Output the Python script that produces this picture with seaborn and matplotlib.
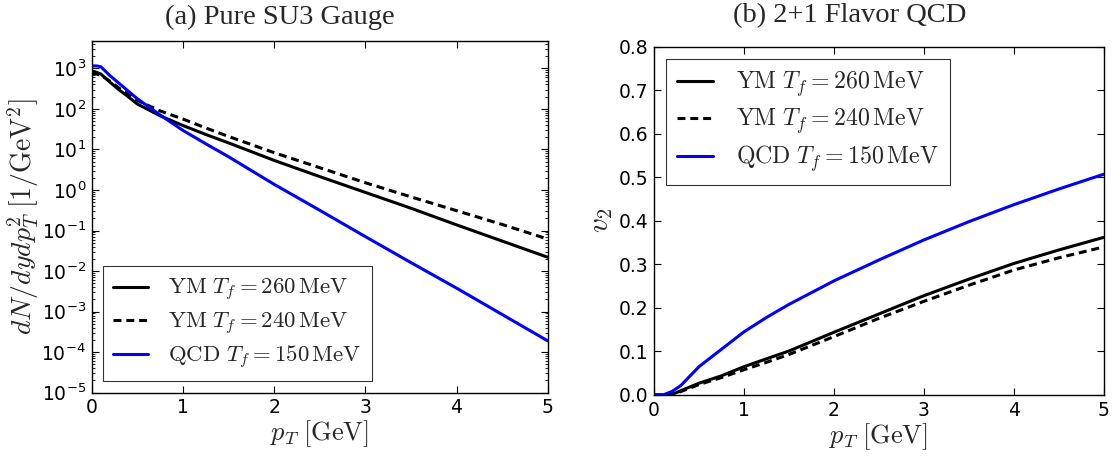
import numpy as np
import pandas as pd
import matplotlib
matplotlib.use("Agg")
import matplotlib.pyplot as plt
from matplotlib.ticker import FixedLocator, FuncFormatter, LogLocator, NullFormatter
import seaborn as sns

# ---------------- data ----------------
# (a) transverse-momentum spectra, dN/dy dp_T^2 [1/GeV^2]
pt_spec = [0.0, 0.05, 0.1, 0.15, 0.2, 0.3, 0.4, 0.5, 0.75, 1.0, 1.25, 1.5, 2.0, 2.5, 3.0, 3.5, 4.0, 4.5, 5.0]
spec_ym260 = [851, 800, 724, 575, 457, 295, 200, 132, 67.6, 38.9, 23.4, 14.5, 5.37, 2.14, 0.871, 0.355, 0.138, 0.055, 0.0219]
spec_ym240 = [759, 730, 676, 575, 480, 324, 229, 162, 89.1, 56.2, 33.9, 20.9, 8.32, 3.55, 1.51, 0.676, 0.309, 0.141, 0.0617]
spec_qcd150 = [1148, 1148, 1096, 850, 660, 427, 275, 178, 70.8, 29.5, 13.8, 6.61, 1.38, 0.316, 0.0708, 0.0162, 0.0038, 8.5e-4, 1.9e-4]

# (b) elliptic flow v2(p_T)
pt_v2 = [0.0, 0.1, 0.2, 0.3, 0.5, 0.75, 1.0, 1.25, 1.5, 2.0, 2.5, 3.0, 3.5, 4.0, 4.5, 5.0]
v2_ym260 = [0.0, 0.0, 0.001, 0.010, 0.027, 0.044, 0.065, 0.083, 0.101, 0.144, 0.186, 0.228, 0.266, 0.302, 0.333, 0.362]
v2_ym240 = [0.0, 0.0, 0.001, 0.008, 0.024, 0.040, 0.058, 0.075, 0.093, 0.134, 0.176, 0.215, 0.252, 0.287, 0.315, 0.340]
v2_qcd150 = [0.0, 0.0, 0.008, 0.022, 0.065, 0.105, 0.145, 0.178, 0.208, 0.262, 0.310, 0.356, 0.398, 0.437, 0.473, 0.507]

series_labels = [r"$\mathrm{YM}\ T_f = 260\,\mathrm{MeV}$",
                 r"$\mathrm{YM}\ T_f = 240\,\mathrm{MeV}$",
                 r"$\mathrm{QCD}\ T_f = 150\,\mathrm{MeV}$"]
x_ticks = [0, 1, 2, 3, 4, 5]
v2_ticks = [0.0, 0.1, 0.2, 0.3, 0.4, 0.5, 0.6, 0.7, 0.8]

# ---------------- style ----------------
sns.set_style("ticks")
plt.rcParams.update({
    "font.family": ["DejaVu Sans"],
    "mathtext.fontset": "cm",
    "xtick.direction": "in",
    "ytick.direction": "in",
    "xtick.top": True,
    "ytick.right": True,
    "xtick.major.size": 5,
    "ytick.major.size": 5,
    "xtick.minor.size": 2.5,
    "ytick.minor.size": 2.5,
    "xtick.major.width": 0.8,
    "ytick.major.width": 0.8,
    "axes.edgecolor": "black",
    "axes.linewidth": 1.0,
    "xtick.color": "black",
    "ytick.color": "black",
})

LW = 2.2
DASH = (0, (2.6, 1.6))
styles = [dict(color="black", linestyle="-"),
          dict(color="black", linestyle=DASH),
          dict(color="#0000ff", linestyle="-")]

fig = plt.figure(figsize=(11.13, 4.57), dpi=100)
ax1 = fig.add_axes([0.0824, 0.1407, 0.4097, 0.7702])
ax2 = fig.add_axes([0.5876, 0.1357, 0.4040, 0.7621])

# ---------------- (a) spectra ----------------
for ys, lab, st in zip([spec_ym260, spec_ym240, spec_qcd150], series_labels, styles):
    df = pd.DataFrame({"pT": pt_spec, "val": ys})
    sns.lineplot(data=df, x="pT", y="val", ax=ax1, lw=LW, label=lab, **st)

ax1.set_yscale("log")
ax1.set_xlim(0, 5)
ax1.set_ylim(1e-5, 4.8e3)
ax1.xaxis.set_major_locator(FixedLocator(x_ticks))
ax1.xaxis.set_major_formatter(FuncFormatter(lambda v, p: f"{v:g}"))
ax1.yaxis.set_major_locator(LogLocator(base=10, numticks=20))
ax1.yaxis.set_minor_locator(LogLocator(base=10, subs=np.arange(2, 10), numticks=20))
ax1.yaxis.set_minor_formatter(NullFormatter())
ax1.yaxis.set_major_formatter(
    FuncFormatter(lambda v, p: r"$\mathregular{10^{%d}}$" % int(round(np.log10(v)))))
ax1.tick_params(axis="both", which="major", labelsize=13.5, pad=4)
ax1.set_xlabel(r"$p_T\;[\mathrm{GeV}]$", fontsize=19, labelpad=1)
ax1.set_ylabel(r"$dN/dydp_T^2\;[1/\mathrm{GeV}^2]$", fontsize=20, labelpad=0)
leg1 = ax1.legend(loc="lower left", fontsize=16.4, frameon=True, fancybox=False,
                  edgecolor="black", handlelength=1.5, handletextpad=0.92,
                  borderpad=0.45, labelspacing=0.3, borderaxespad=0.5)
leg1.get_frame().set_linewidth(0.8)

# ---------------- (b) v2 ----------------
for ys, lab, st in zip([v2_ym260, v2_ym240, v2_qcd150], series_labels, styles):
    df = pd.DataFrame({"pT": pt_v2, "val": ys})
    sns.lineplot(data=df, x="pT", y="val", ax=ax2, lw=LW, label=lab, **st)

ax2.set_xlim(0, 5)
ax2.set_ylim(0, 0.8)
ax2.xaxis.set_major_locator(FixedLocator(x_ticks))
ax2.xaxis.set_major_formatter(FuncFormatter(lambda v, p: f"{v:g}"))
ax2.yaxis.set_major_locator(FixedLocator(v2_ticks))
ax2.yaxis.set_major_formatter(FuncFormatter(lambda v, p: f"{v:.1f}"))
ax2.tick_params(axis="both", which="major", labelsize=13.5, pad=4)
ax2.set_xlabel(r"$p_T\;[\mathrm{GeV}]$", fontsize=19, labelpad=1)
ax2.set_ylabel(r"$v_2$", fontsize=21, labelpad=3)
leg2 = ax2.legend(loc="upper left", fontsize=17.2, frameon=True, fancybox=False,
                  edgecolor="black", handlelength=1.5, handletextpad=1.0,
                  borderpad=0.45, labelspacing=0.32, borderaxespad=0.5)
leg2.get_frame().set_linewidth(0.8)

# ---------------- panel titles ----------------
fig.text(280 / 1113, 1 - 24 / 457, "(a) Pure SU3 Gauge", ha="center", va="baseline",
         fontsize=20.5, family=["Liberation Serif", "DejaVu Serif"])
fig.text(850 / 1113, 1 - 22 / 457, "(b) 2+1 Flavor QCD", ha="center", va="baseline",
         fontsize=20.5, family=["Liberation Serif", "DejaVu Serif"])

fig.savefig("out.png", dpi=100)
